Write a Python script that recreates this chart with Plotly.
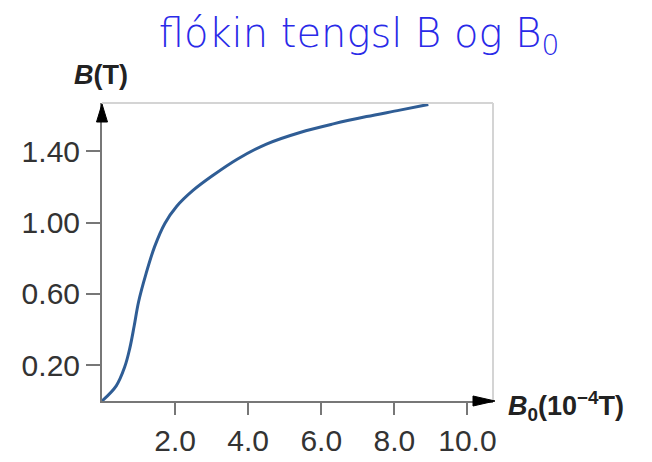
import plotly.graph_objects as go

# Data
b0_values = [0.0, 0.39, 0.62, 0.76, 0.88, 1.0, 1.2, 1.44, 1.72, 2.04, 2.49, 3.04, 3.7, 4.5, 5.42, 6.33, 7.24, 8.15, 8.93]
b_values = [0.0, 0.085, 0.19, 0.295, 0.42, 0.555, 0.71, 0.865, 0.995, 1.09, 1.18, 1.265, 1.355, 1.44, 1.505, 1.553, 1.594, 1.63, 1.662]
x_ticks = [2.0, 4.0, 6.0, 8.0, 10.0]
x_tick_labels = ["2.0", "4.0", "6.0", "8.0", "10.0"]
y_ticks = [0.20, 0.60, 1.00, 1.40]
y_tick_labels = ["0.20", "0.60", "1.00", "1.40"]

OFF = 8  # page body margin
W, H = 652 - OFF, 462 - OFF
L, T = 102 - OFF, 103 - OFF
pw, ph = 391, 298
R, B = W - L - pw, H - T - ph


def px(X):
    return (X - 102) / pw


def py(Y):
    return (401 - Y) / ph


fig = go.Figure()
fig.add_trace(go.Scatter(
    x=b0_values, y=b_values, mode="lines",
    line=dict(color="#2f5d95", width=3, shape="spline", smoothing=1.0),
    hoverinfo="skip", showlegend=False,
))

tick_font = dict(family="Liberation Sans, Arial, sans-serif", size=30, color="#333333")
fig.update_xaxes(
    range=[0, 10.7], tickvals=x_ticks, ticktext=x_tick_labels,
    showgrid=False, zeroline=False, showline=True, linecolor="#777777", linewidth=2,
    ticks="outside", ticklen=12, tickwidth=2, tickcolor="#777777",
    tickfont=tick_font, fixedrange=True, automargin=False,
)
fig.update_yaxes(
    range=[0, 1.67], tickvals=y_ticks, ticktext=y_tick_labels,
    showgrid=False, zeroline=False, showline=True, linecolor="#777777", linewidth=2,
    ticks="outside", ticklen=14, tickwidth=2, tickcolor="#777777",
    tickfont=tick_font, fixedrange=True, automargin=False,
)

shapes = [
    dict(type="line", xref="paper", yref="paper", x0=0, y0=1, x1=1, y1=1,
         line=dict(color="#d4d4d4", width=2)),
    dict(type="line", xref="paper", yref="paper", x0=1, y0=0, x1=1, y1=1,
         line=dict(color="#d4d4d4", width=2)),
]
ax_tip = py(104)
ax_base = py(122)
hw = 5.5 / pw
shapes.append(dict(type="path", xref="paper", yref="paper",
                   path=f"M {-hw} {ax_base} L 0 {ax_tip} L {hw} {ax_base} Z",
                   fillcolor="#000000", line=dict(color="#000000", width=1)))
xt = px(495)
xb = px(473)
hh = 5 / ph
shapes.append(dict(type="path", xref="paper", yref="paper",
                   path=f"M {xb} {-hh} L {xt} 0 L {xb} {hh} Z",
                   fillcolor="#000000", line=dict(color="#000000", width=1)))

label_font = dict(family="Liberation Sans, Arial, sans-serif", size=27, color="#222222")
annotations = [
    dict(text="<b><i>B</i>(T)</b>", xref="paper", yref="paper",
         x=px(101), y=py(75), xanchor="center", yanchor="middle",
         showarrow=False, font=label_font),
    dict(text="<b><i>B</i><sub>0</sub>(10<sup>−4</sup>T)</b>", xref="paper", yref="paper",
         x=px(506), y=py(406), xanchor="left", yanchor="middle",
         showarrow=False, font=label_font),
]

fig.update_layout(
    width=W, height=H,
    margin=dict(l=L, r=R, t=T, b=B),
    paper_bgcolor="white", plot_bgcolor="white",
    shapes=shapes, annotations=annotations,
    title=dict(text="flókin tengsl B og B<sub>0</sub>", x=(359 - OFF) / W, xanchor="center",
               y=1 - (33 - OFF) / H, yanchor="middle",
               font=dict(family="DejaVu Sans, Lato, sans-serif", size=40, color="#2a2ae8", weight=200)),
)

fig.write_html("out.html")
